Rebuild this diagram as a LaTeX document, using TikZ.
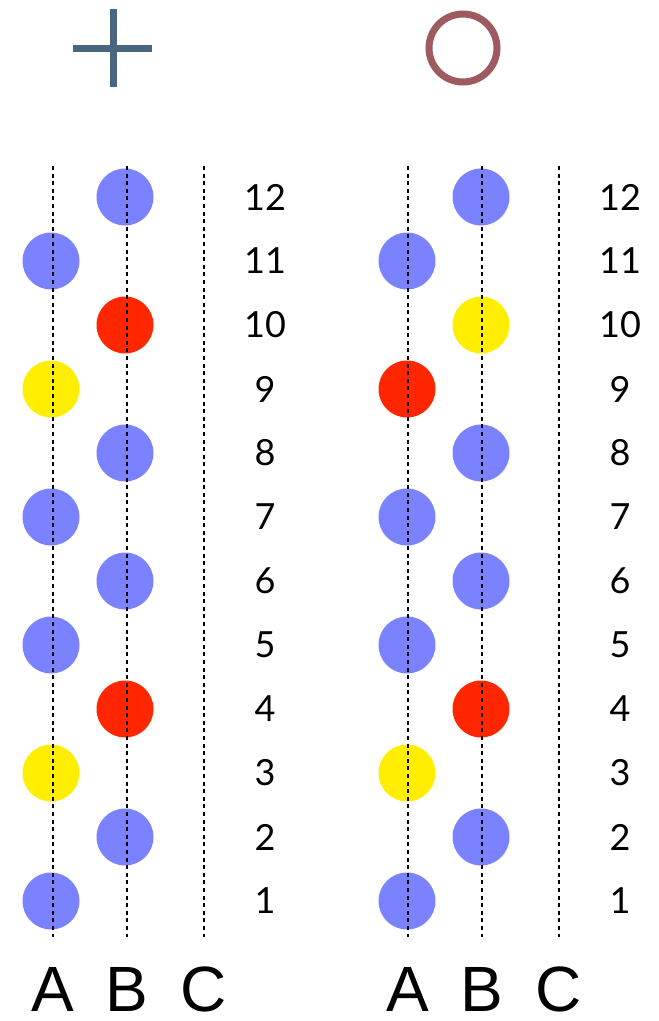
\documentclass[tikz,border=0pt]{standalone}
\usepackage{fontspec}
\setmainfont{Liberation Sans}
\newfontfamily\numfont{Lato}
\usepackage{tikz}
\usetikzlibrary{calc,positioning}
\definecolor{beadblue}  {RGB}{122,130,255}
\definecolor{beadred}   {RGB}{255, 38,  0}
\definecolor{beadyellow}{RGB}{255,238,  0}
\definecolor{plusblue}  {RGB}{ 74,101,128}
\definecolor{ringred}   {RGB}{158, 90, 94}

\begin{document}
\begin{tikzpicture}[x=1pt,y=-1pt,
  bead/.style={circle, minimum size=57pt, inner sep=0pt},
  guide/.style={line width=2.7pt, dash pattern=on 4pt off 3.6pt},
  rownum/.style={inner sep=0pt, font=\numfont\fontsize{36}{36}\selectfont},
  colname/.style={inner sep=0pt, font=\fontsize{64}{64}\selectfont}]
\useasboundingbox (0,0) rectangle (659,1021);
% symbols on top
\draw[line width=7pt, plusblue] (113,9) -- (113,87) (73,48) -- (152,48);
\draw[line width=7pt, ringred] (463,48) circle[radius=34];
% columns and rows
\coordinate (top) at (0,166);
\coordinate (foot) at (0,937);
\coordinate (labelrow) at (0,989);
\coordinate (LA) at (53,0);  \coordinate (LB) at (127,0);  \coordinate (LC) at (204,0);
\coordinate (RA) at (408,0); \coordinate (RB) at (482,0);  \coordinate (RC) at (559,0);
\foreach \n in {1,...,12}{
  \node[rownum] (Lnum\n) at (265,{197+(12-\n)*64}) {\n};
  \node[rownum] (Rnum\n) at (620,{197+(12-\n)*64}) {\n};
}
% beads
\foreach \n/\c/\col in {12/B/beadblue,11/A/beadblue,10/B/beadred,9/A/beadyellow,
  8/B/beadblue,7/A/beadblue,6/B/beadblue,5/A/beadblue,4/B/beadred,3/A/beadyellow,
  2/B/beadblue,1/A/beadblue}
  \node[bead, fill=\col] (Lbead\n) at ([xshift=-2pt]L\c |- Lnum\n) {};
\foreach \n/\c/\col in {12/B/beadblue,11/A/beadblue,10/B/beadyellow,9/A/beadred,
  8/B/beadblue,7/A/beadblue,6/B/beadblue,5/A/beadblue,4/B/beadred,3/A/beadyellow,
  2/B/beadblue,1/A/beadblue}
  \node[bead, fill=\col] (Rbead\n) at ([xshift=-1pt]R\c |- Rnum\n) {};
% dashed guides and letters
\foreach \s in {L,R}
  \foreach \c in {A,B,C}{
    \draw[guide] (\s\c |- top) -- (\s\c |- foot);
    \node[colname] (\s label\c) at (\s\c |- labelrow) {\c};
  }
\end{tikzpicture}
\end{document}
